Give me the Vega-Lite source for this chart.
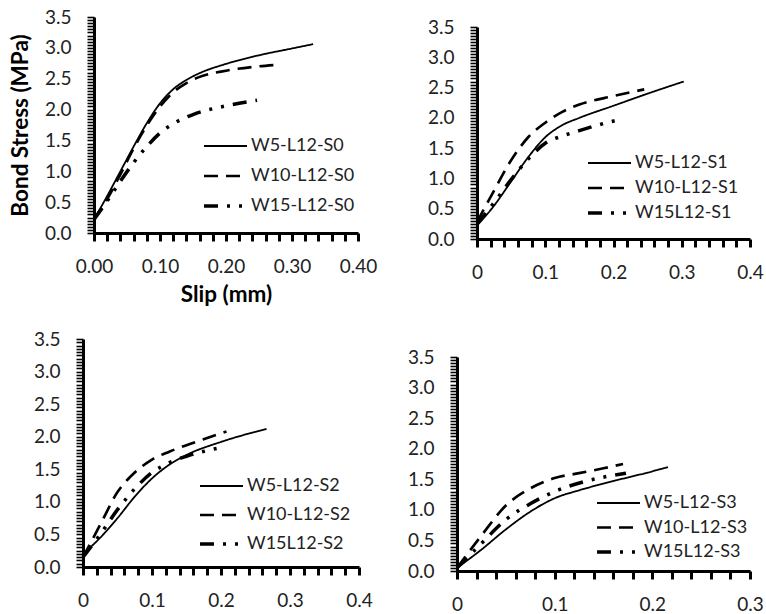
{
  "$schema": "https://vega.github.io/schema/vega-lite/v6.json",
  "padding": {"left": 9, "top": 8, "right": 0, "bottom": 0},
  "background": "white",
  "config": {
    "view": {"stroke": null},
    "font": "Lato",
    "axis": {"domain": true, "ticks": true, "domainColor": "black", "domainWidth": 3, "tickColor": "black", "labelColor": "#222", "labelFont": "Lato", "labelFontSize": 19, "grid": false, "labelOverlap": false, "labelFlush": false, "titleFont": "Lato", "titleFontSize": 22.5, "titleFontWeight": "bold", "titleColor": "black"},
    "axisX": {"tickSize": 8, "tickWidth": 3, "labelPadding": 16},
    "axisY": {"tickSize": 7, "tickWidth": 1.6, "labelPadding": 16},
    "legend": {"symbolType": "stroke", "symbolSize": 1849, "symbolStrokeColor": "black", "labelFont": "Lato", "labelFontSize": 18, "labelColor": "#222", "labelOffset": 2, "padding": 0, "orient": "none", "clipHeight": 18}
  },
  "data": {"values": [
    {"p":"S0","s":"W5-L12-S0","x":0,"y":0.22},{"p":"S0","s":"W5-L12-S0","x":0.02,"y":0.6},{"p":"S0","s":"W5-L12-S0","x":0.04,"y":1.0},{"p":"S0","s":"W5-L12-S0","x":0.06,"y":1.4},{"p":"S0","s":"W5-L12-S0","x":0.08,"y":1.78},{"p":"S0","s":"W5-L12-S0","x":0.1,"y":2.1},{"p":"S0","s":"W5-L12-S0","x":0.12,"y":2.33},{"p":"S0","s":"W5-L12-S0","x":0.14,"y":2.48},{"p":"S0","s":"W5-L12-S0","x":0.16,"y":2.59},{"p":"S0","s":"W5-L12-S0","x":0.2,"y":2.74},{"p":"S0","s":"W5-L12-S0","x":0.25,"y":2.88},{"p":"S0","s":"W5-L12-S0","x":0.3,"y":2.99},{"p":"S0","s":"W5-L12-S0","x":0.332,"y":3.06},
    {"p":"S0","s":"W10-L12-S0","x":0,"y":0.22},{"p":"S0","s":"W10-L12-S0","x":0.02,"y":0.55},{"p":"S0","s":"W10-L12-S0","x":0.04,"y":0.95},{"p":"S0","s":"W10-L12-S0","x":0.06,"y":1.37},{"p":"S0","s":"W10-L12-S0","x":0.08,"y":1.74},{"p":"S0","s":"W10-L12-S0","x":0.1,"y":2.05},{"p":"S0","s":"W10-L12-S0","x":0.12,"y":2.28},{"p":"S0","s":"W10-L12-S0","x":0.14,"y":2.43},{"p":"S0","s":"W10-L12-S0","x":0.16,"y":2.53},{"p":"S0","s":"W10-L12-S0","x":0.2,"y":2.63},{"p":"S0","s":"W10-L12-S0","x":0.24,"y":2.69},{"p":"S0","s":"W10-L12-S0","x":0.272,"y":2.72},
    {"p":"S0","s":"W15-L12-S0","x":0,"y":0.22},{"p":"S0","s":"W15-L12-S0","x":0.02,"y":0.52},{"p":"S0","s":"W15-L12-S0","x":0.04,"y":0.84},{"p":"S0","s":"W15-L12-S0","x":0.06,"y":1.14},{"p":"S0","s":"W15-L12-S0","x":0.08,"y":1.4},{"p":"S0","s":"W15-L12-S0","x":0.1,"y":1.62},{"p":"S0","s":"W15-L12-S0","x":0.12,"y":1.77},{"p":"S0","s":"W15-L12-S0","x":0.15,"y":1.92},{"p":"S0","s":"W15-L12-S0","x":0.2,"y":2.06},{"p":"S0","s":"W15-L12-S0","x":0.247,"y":2.15},
    {"p":"S1","s":"W5-L12-S1","x":0,"y":0.22},{"p":"S1","s":"W5-L12-S1","x":0.025,"y":0.55},{"p":"S1","s":"W5-L12-S1","x":0.05,"y":0.95},{"p":"S1","s":"W5-L12-S1","x":0.075,"y":1.35},{"p":"S1","s":"W5-L12-S1","x":0.1,"y":1.68},{"p":"S1","s":"W5-L12-S1","x":0.125,"y":1.88},{"p":"S1","s":"W5-L12-S1","x":0.15,"y":2.0},{"p":"S1","s":"W5-L12-S1","x":0.2,"y":2.2},{"p":"S1","s":"W5-L12-S1","x":0.25,"y":2.4},{"p":"S1","s":"W5-L12-S1","x":0.303,"y":2.6},
    {"p":"S1","s":"W10-L12-S1","x":0,"y":0.28},{"p":"S1","s":"W10-L12-S1","x":0.025,"y":0.8},{"p":"S1","s":"W10-L12-S1","x":0.05,"y":1.3},{"p":"S1","s":"W10-L12-S1","x":0.075,"y":1.68},{"p":"S1","s":"W10-L12-S1","x":0.1,"y":1.92},{"p":"S1","s":"W10-L12-S1","x":0.125,"y":2.1},{"p":"S1","s":"W10-L12-S1","x":0.15,"y":2.22},{"p":"S1","s":"W10-L12-S1","x":0.2,"y":2.36},{"p":"S1","s":"W10-L12-S1","x":0.245,"y":2.47},
    {"p":"S1","s":"W15L12-S1","x":0,"y":0.25},{"p":"S1","s":"W15L12-S1","x":0.025,"y":0.6},{"p":"S1","s":"W15L12-S1","x":0.05,"y":0.98},{"p":"S1","s":"W15L12-S1","x":0.075,"y":1.32},{"p":"S1","s":"W15L12-S1","x":0.1,"y":1.58},{"p":"S1","s":"W15L12-S1","x":0.125,"y":1.7},{"p":"S1","s":"W15L12-S1","x":0.15,"y":1.79},{"p":"S1","s":"W15L12-S1","x":0.18,"y":1.89},{"p":"S1","s":"W15L12-S1","x":0.208,"y":1.97},
    {"p":"S2","s":"W5-L12-S2","x":0,"y":0.2},{"p":"S2","s":"W5-L12-S2","x":0.025,"y":0.45},{"p":"S2","s":"W5-L12-S2","x":0.05,"y":0.75},{"p":"S2","s":"W5-L12-S2","x":0.075,"y":1.08},{"p":"S2","s":"W5-L12-S2","x":0.1,"y":1.36},{"p":"S2","s":"W5-L12-S2","x":0.125,"y":1.57},{"p":"S2","s":"W5-L12-S2","x":0.15,"y":1.72},{"p":"S2","s":"W5-L12-S2","x":0.2,"y":1.92},{"p":"S2","s":"W5-L12-S2","x":0.266,"y":2.12},
    {"p":"S2","s":"W10-L12-S2","x":0,"y":0.15},{"p":"S2","s":"W10-L12-S2","x":0.025,"y":0.65},{"p":"S2","s":"W10-L12-S2","x":0.05,"y":1.15},{"p":"S2","s":"W10-L12-S2","x":0.075,"y":1.45},{"p":"S2","s":"W10-L12-S2","x":0.1,"y":1.65},{"p":"S2","s":"W10-L12-S2","x":0.125,"y":1.77},{"p":"S2","s":"W10-L12-S2","x":0.15,"y":1.87},{"p":"S2","s":"W10-L12-S2","x":0.18,"y":1.98},{"p":"S2","s":"W10-L12-S2","x":0.208,"y":2.08},
    {"p":"S2","s":"W15L12-S2","x":0,"y":0.15},{"p":"S2","s":"W15L12-S2","x":0.025,"y":0.5},{"p":"S2","s":"W15L12-S2","x":0.05,"y":0.88},{"p":"S2","s":"W15L12-S2","x":0.075,"y":1.2},{"p":"S2","s":"W15L12-S2","x":0.1,"y":1.45},{"p":"S2","s":"W15L12-S2","x":0.125,"y":1.6},{"p":"S2","s":"W15L12-S2","x":0.15,"y":1.7},{"p":"S2","s":"W15L12-S2","x":0.198,"y":1.83},
    {"p":"S3","s":"W5-L12-S3","x":0,"y":0.05},{"p":"S3","s":"W5-L12-S3","x":0.025,"y":0.35},{"p":"S3","s":"W5-L12-S3","x":0.05,"y":0.68},{"p":"S3","s":"W5-L12-S3","x":0.075,"y":0.97},{"p":"S3","s":"W5-L12-S3","x":0.1,"y":1.19},{"p":"S3","s":"W5-L12-S3","x":0.125,"y":1.32},{"p":"S3","s":"W5-L12-S3","x":0.15,"y":1.43},{"p":"S3","s":"W5-L12-S3","x":0.2,"y":1.63},{"p":"S3","s":"W5-L12-S3","x":0.216,"y":1.7},
    {"p":"S3","s":"W10-L12-S3","x":0,"y":0.05},{"p":"S3","s":"W10-L12-S3","x":0.025,"y":0.58},{"p":"S3","s":"W10-L12-S3","x":0.05,"y":1.07},{"p":"S3","s":"W10-L12-S3","x":0.075,"y":1.35},{"p":"S3","s":"W10-L12-S3","x":0.1,"y":1.52},{"p":"S3","s":"W10-L12-S3","x":0.125,"y":1.6},{"p":"S3","s":"W10-L12-S3","x":0.15,"y":1.68},{"p":"S3","s":"W10-L12-S3","x":0.17,"y":1.75},
    {"p":"S3","s":"W15L12-S3","x":0,"y":0.05},{"p":"S3","s":"W15L12-S3","x":0.025,"y":0.45},{"p":"S3","s":"W15L12-S3","x":0.05,"y":0.84},{"p":"S3","s":"W15L12-S3","x":0.075,"y":1.1},{"p":"S3","s":"W15L12-S3","x":0.1,"y":1.3},{"p":"S3","s":"W15L12-S3","x":0.13,"y":1.46},{"p":"S3","s":"W15L12-S3","x":0.173,"y":1.6}
  ]},
  "columns": 2,
  "align": "none",
  "spacing": {"row": 24, "column": 30},
  "resolve": {"scale": {"x": "independent", "y": "independent", "strokeDash": "independent", "strokeWidth": "independent"}, "legend": {"strokeDash": "independent", "strokeWidth": "independent"}},
  "concat": [
    {
      "width": 275, "height": 216,
      "transform": [{"filter": "datum.p == 'S0'"}],
      "mark": {"type": "line", "interpolate": "monotone", "color": "black", "strokeCap": "butt"},
      "encoding": {
        "x": {"field": "x", "type": "quantitative", "scale": {"domain": [0, 0.4], "nice": false, "range": [11, 275]}, "axis": {"title": "Slip (mm)", "titlePadding": 7, "values": [0,0.02,0.04,0.06,0.08,0.1,0.12,0.14,0.16,0.18,0.2,0.22,0.24,0.26,0.28,0.3,0.32,0.34,0.36,0.38,0.4], "labelExpr": "(round(datum.value*100) % 10 == 0) ? format(datum.value, '.2f') : ''"}},
        "y": {"field": "y", "type": "quantitative", "scale": {"domain": [0, 3.5], "nice": false}, "axis": {"title": "Bond Stress (MPa)", "titlePadding": 12, "offset": -11, "values": [0,0.05,0.1,0.15,0.2,0.25,0.3,0.35,0.4,0.45,0.5,0.55,0.6,0.65,0.7,0.75,0.8,0.85,0.9,0.95,1,1.05,1.1,1.15,1.2,1.25,1.3,1.35,1.4,1.45,1.5,1.55,1.6,1.65,1.7,1.75,1.8,1.85,1.9,1.95,2,2.05,2.1,2.15,2.2,2.25,2.3,2.35,2.4,2.45,2.5,2.55,2.6,2.65,2.7,2.75,2.8,2.85,2.9,2.95,3,3.05,3.1,3.15,3.2,3.25,3.3,3.35,3.4,3.45,3.5], "labelExpr": "(round(datum.value*100) % 50 == 0) ? format(datum.value, '.1f') : ''"}},
        "strokeDash": {"field": "s", "type": "nominal", "scale": {"domain": ["W5-L12-S0", "W10-L12-S0", "W15-L12-S0"], "range": [[1, 0], [14, 8], [14, 9, 3, 9, 3, 9]]}, "legend": {"title": null, "orient": "none", "legendX": 119, "legendY": 120, "rowPadding": 12}},
        "strokeWidth": {"field": "s", "type": "nominal", "scale": {"domain": ["W5-L12-S0", "W10-L12-S0", "W15-L12-S0"], "range": [1.8, 3.5, 3.5]}, "legend": {"title": null, "orient": "none", "legendX": 119, "legendY": 120, "rowPadding": 12}}
      }
    },
    {
      "width": 273, "height": 222,
      "transform": [{"filter": "datum.p == 'S1'"}],
      "mark": {"type": "line", "interpolate": "monotone", "color": "black", "strokeCap": "butt"},
      "encoding": {
        "x": {"field": "x", "type": "quantitative", "scale": {"domain": [0, 0.4], "nice": false}, "axis": {"title": null, "values": [0,0.02,0.04,0.06,0.08,0.1,0.12,0.14,0.16,0.18,0.2,0.22,0.24,0.26,0.28,0.3,0.32,0.34,0.36,0.38,0.4], "labelExpr": "(round(datum.value*100) % 10 == 0) ? (datum.value == 0 ? '0' : format(datum.value, '.1f')) : ''"}},
        "y": {"field": "y", "type": "quantitative", "scale": {"domain": [0, 3.5], "nice": false, "range": [222, 10]}, "axis": {"title": null, "minExtent": 70, "values": [0,0.05,0.1,0.15,0.2,0.25,0.3,0.35,0.4,0.45,0.5,0.55,0.6,0.65,0.7,0.75,0.8,0.85,0.9,0.95,1,1.05,1.1,1.15,1.2,1.25,1.3,1.35,1.4,1.45,1.5,1.55,1.6,1.65,1.7,1.75,1.8,1.85,1.9,1.95,2,2.05,2.1,2.15,2.2,2.25,2.3,2.35,2.4,2.45,2.5,2.55,2.6,2.65,2.7,2.75,2.8,2.85,2.9,2.95,3,3.05,3.1,3.15,3.2,3.25,3.3,3.35,3.4,3.45,3.5], "labelExpr": "(round(datum.value*100) % 50 == 0) ? format(datum.value, '.1f') : ''"}},
        "strokeDash": {"field": "s", "type": "nominal", "scale": {"domain": ["W5-L12-S1", "W10-L12-S1", "W15L12-S1"], "range": [[1, 0], [14, 8], [14, 9, 3, 9, 3, 9]]}, "legend": {"title": null, "orient": "none", "legendX": 109, "legendY": 137, "rowPadding": 7}},
        "strokeWidth": {"field": "s", "type": "nominal", "scale": {"domain": ["W5-L12-S1", "W10-L12-S1", "W15L12-S1"], "range": [1.8, 3.5, 3.5]}, "legend": {"title": null, "orient": "none", "legendX": 109, "legendY": 137, "rowPadding": 7}}
      }
    },
    {
      "width": 276, "height": 228,
      "transform": [{"filter": "datum.p == 'S2'"}],
      "mark": {"type": "line", "interpolate": "monotone", "color": "black", "strokeCap": "butt"},
      "encoding": {
        "x": {"field": "x", "type": "quantitative", "scale": {"domain": [0, 0.4], "nice": false}, "axis": {"title": null, "values": [0,0.02,0.04,0.06,0.08,0.1,0.12,0.14,0.16,0.18,0.2,0.22,0.24,0.26,0.28,0.3,0.32,0.34,0.36,0.38,0.4], "labelExpr": "(round(datum.value*100) % 10 == 0) ? (datum.value == 0 ? '0' : format(datum.value, '.1f')) : ''"}},
        "y": {"field": "y", "type": "quantitative", "scale": {"domain": [0, 3.5], "nice": false}, "axis": {"title": null, "values": [0,0.05,0.1,0.15,0.2,0.25,0.3,0.35,0.4,0.45,0.5,0.55,0.6,0.65,0.7,0.75,0.8,0.85,0.9,0.95,1,1.05,1.1,1.15,1.2,1.25,1.3,1.35,1.4,1.45,1.5,1.55,1.6,1.65,1.7,1.75,1.8,1.85,1.9,1.95,2,2.05,2.1,2.15,2.2,2.25,2.3,2.35,2.4,2.45,2.5,2.55,2.6,2.65,2.7,2.75,2.8,2.85,2.9,2.95,3,3.05,3.1,3.15,3.2,3.25,3.3,3.35,3.4,3.45,3.5], "labelExpr": "(round(datum.value*100) % 50 == 0) ? format(datum.value, '.1f') : ''"}},
        "strokeDash": {"field": "s", "type": "nominal", "scale": {"domain": ["W5-L12-S2", "W10-L12-S2", "W15L12-S2"], "range": [[1, 0], [14, 8], [14, 9, 3, 9, 3, 9]]}, "legend": {"title": null, "orient": "none", "legendX": 115, "legendY": 138, "rowPadding": 11}},
        "strokeWidth": {"field": "s", "type": "nominal", "scale": {"domain": ["W5-L12-S2", "W10-L12-S2", "W15L12-S2"], "range": [1.8, 3.5, 3.5]}, "legend": {"title": null, "orient": "none", "legendX": 115, "legendY": 138, "rowPadding": 11}}
      }
    },
    {
      "width": 293, "height": 214,
      "title": {"text": " ", "fontSize": 14, "offset": 4},
      "transform": [{"filter": "datum.p == 'S3'"}],
      "mark": {"type": "line", "interpolate": "monotone", "color": "black", "strokeCap": "butt"},
      "encoding": {
        "x": {"field": "x", "type": "quantitative", "scale": {"domain": [0, 0.3], "nice": false}, "axis": {"title": null, "values": [0,0.02,0.04,0.06,0.08,0.1,0.12,0.14,0.16,0.18,0.2,0.22,0.24,0.26,0.28,0.3], "labelExpr": "(round(datum.value*100) % 10 == 0) ? (datum.value == 0 ? '0' : format(datum.value, '.1f')) : ''"}},
        "y": {"field": "y", "type": "quantitative", "scale": {"domain": [0, 3.5], "nice": false}, "axis": {"title": null, "values": [0,0.05,0.1,0.15,0.2,0.25,0.3,0.35,0.4,0.45,0.5,0.55,0.6,0.65,0.7,0.75,0.8,0.85,0.9,0.95,1,1.05,1.1,1.15,1.2,1.25,1.3,1.35,1.4,1.45,1.5,1.55,1.6,1.65,1.7,1.75,1.8,1.85,1.9,1.95,2,2.05,2.1,2.15,2.2,2.25,2.3,2.35,2.4,2.45,2.5,2.55,2.6,2.65,2.7,2.75,2.8,2.85,2.9,2.95,3,3.05,3.1,3.15,3.2,3.25,3.3,3.35,3.4,3.45,3.5], "labelExpr": "(round(datum.value*100) % 50 == 0) ? format(datum.value, '.1f') : ''"}},
        "strokeDash": {"field": "s", "type": "nominal", "scale": {"domain": ["W5-L12-S3", "W10-L12-S3", "W15L12-S3"], "range": [[1, 0], [14, 8], [14, 9, 3, 9, 3, 9]]}, "legend": {"title": null, "orient": "none", "legendX": 138, "legendY": 137, "rowPadding": 6.5}},
        "strokeWidth": {"field": "s", "type": "nominal", "scale": {"domain": ["W5-L12-S3", "W10-L12-S3", "W15L12-S3"], "range": [1.8, 3.5, 3.5]}, "legend": {"title": null, "orient": "none", "legendX": 138, "legendY": 137, "rowPadding": 6.5}}
      }
    }
  ]
}
